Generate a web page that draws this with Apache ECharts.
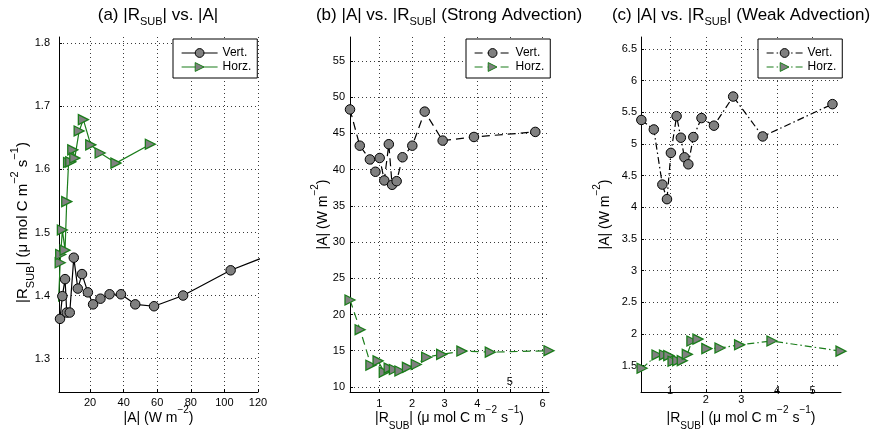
<!DOCTYPE html>
<html>
<head>
<meta charset="utf-8">
<script src="https://cdn.jsdelivr.net/npm/echarts@6/dist/echarts.min.js"></script>
<style>
  html, body { margin: 0; padding: 0; background: #fff; }
  #chart { width: 871px; height: 437px; }
</style>
</head>
<body>
<div id="chart"></div>
<script>
// ---- (a) |R_SUB| against |A| ----
const aVertA = [2.1, 3.5, 5.1, 6.1, 7.9, 10.3, 12.7, 15.2, 18.7, 21.8, 26.2, 31.6, 38.4, 46.9, 58.1, 75.4, 103.7, 140];
const aVertR = [1.363, 1.399, 1.426, 1.373, 1.373, 1.460, 1.411, 1.434, 1.405, 1.386, 1.395, 1.402, 1.402, 1.386, 1.383, 1.400, 1.440, 1.478];
const aHorzA = [1.2, 2.2, 2.5, 3.5, 5.1, 6.1, 7.2, 8.5, 9.7, 10.9, 13.5, 16.0, 20.4, 26.0, 35.4, 55.9];
const aHorzR = [1.39, 1.452, 1.465, 1.504, 1.472, 1.549, 1.611, 1.612, 1.631, 1.618, 1.661, 1.679, 1.639, 1.626, 1.610, 1.640];
const aXTicks = [20, 40, 60, 80, 100, 120];
const aYTicks = [1.3, 1.4, 1.5, 1.6, 1.7, 1.8];

// ---- (b) |A| against |R_SUB|, strong advection ----
const bVertR = [0.10, 0.40, 0.71, 0.88, 1.01, 1.15, 1.29, 1.39, 1.53, 1.71, 2.01, 2.39, 2.94, 3.90, 5.78];
const bVertA = [48.3, 43.3, 41.4, 39.7, 41.6, 38.5, 43.5, 37.9, 38.4, 41.7, 43.3, 48.0, 44.0, 44.5, 45.2];
const bHorzR = [0.10, 0.41, 0.74, 0.96, 1.15, 1.30, 1.46, 1.63, 1.86, 2.13, 2.45, 2.91, 3.53, 4.40, 6.20];
const bHorzA = [22.0, 17.9, 13.0, 13.6, 12.05, 12.6, 12.4, 12.2, 12.7, 13.1, 14.1, 14.5, 14.95, 14.8, 15.0];
const bXTicks = [1, 2, 3, 4, 5, 6];
const bYTicks = [10, 15, 20, 25, 30, 35, 40, 45, 50, 55];
const bXRaised = [5];

// ---- (c) |A| against |R_SUB|, weak advection ----
const cVertR = [0.19, 0.54, 0.78, 0.91, 1.02, 1.18, 1.30, 1.40, 1.51, 1.65, 1.88, 2.23, 2.77, 3.60, 5.56];
const cVertA = [5.38, 5.23, 4.36, 4.13, 4.86, 5.44, 5.10, 4.79, 4.68, 5.11, 5.41, 5.29, 5.75, 5.12, 5.63];
const cHorzR = [0.21, 0.63, 0.84, 0.96, 1.08, 1.21, 1.34, 1.48, 1.61, 1.78, 2.03, 2.40, 2.95, 3.86, 5.80];
const cHorzA = [1.46, 1.67, 1.67, 1.66, 1.57, 1.58, 1.58, 1.68, 1.89, 1.92, 1.77, 1.78, 1.83, 1.89, 1.73];
const cXTicks = [1, 2, 3, 4, 5];
const cYTicks = [1.5, 2, 2.5, 3, 3.5, 4, 4.5, 5, 5.5, 6, 6.5];
const cXRaised = [1, 4, 5];

const FONT = "'Liberation Sans', Arial, Helvetica, sans-serif";
const GREEN = '#1b7d1b';
const MARKER_FILL = '#808080';

const pairs = (xs, ys) => xs.map((x, i) => [x, ys[i]]);

// sub/superscript styles for rich text
const scriptStyles = (size) => ({
  sub: { fontSize: size, lineHeight: size, verticalAlign: 'bottom', fontFamily: FONT, color: '#000' },
  sup: { fontSize: size, lineHeight: size, verticalAlign: 'top', fontFamily: FONT, color: '#000' }
});

const nameStyle = {
  fontSize: 14, lineHeight: 26, color: '#000', fontFamily: FONT,
  rich: scriptStyles(10)
};
// the rotated label of the first panel runs a little larger and lower
const nameStyleA = {
  fontSize: 15, lineHeight: 27, color: '#000', fontFamily: FONT,
  padding: [0, 16, 0, 0],
  rich: scriptStyles(11)
};

const grids = [
  { left: 59, top: 37, width: 199, height: 355 },
  { left: 350, top: 37, width: 199, height: 355 },
  { left: 641, top: 37, width: 200, height: 355 }
].map(g => Object.assign({ containLabel: false, outerBoundsMode: 'none' }, g));

function baseAxis(gridIndex, min, max, ticks, name, nameGap, labelMargin) {
  return {
    type: 'value', gridIndex, min, max,
    axisLine: { show: true, onZero: false, lineStyle: { color: '#000', width: 1 } },
    axisTick: { show: true, inside: true, length: 3, customValues: ticks, lineStyle: { color: '#000' } },
    axisLabel: { customValues: ticks, color: '#000', fontSize: 11, fontFamily: FONT, margin: labelMargin },
    splitLine: { show: true, lineStyle: { color: '#3a3a3a', width: 1, type: [1, 3] } },
    name, nameLocation: 'middle', nameGap, nameMoveOverlap: false, nameTextStyle: nameStyle
  };
}

// x tick labels, a few of which sit higher than the rest
function xLabels(ticks, raised, margin, pad) {
  return {
    customValues: ticks,
    color: '#000', fontSize: 11, fontFamily: FONT, margin,
    formatter: v => (raised.indexOf(v) >= 0 ? '{r|' + v + '}' : '{n|' + v + '}'),
    rich: {
      n: { fontSize: 11, fontFamily: FONT, color: '#000', padding: [pad, 0, 0, 0] },
      r: { fontSize: 11, fontFamily: FONT, color: '#000', padding: [0, 0, 0, 0] }
    }
  };
}

const rsubName = '|R{sub|SUB}| (\u03bc mol C m{sup|\u22122} s{sup|\u22121})';
const aName = '|A| (W m{sup|\u22122})';

const xAxes = [
  baseAxis(0, 1.5, 120, aXTicks, aName, 13, 5),
  baseAxis(1, 0.1, 6.2, bXTicks, rsubName, 13, 5),
  baseAxis(2, 0.18, 5.8, cXTicks, rsubName, 13, 5)
];
xAxes[1].axisLabel = xLabels(bXTicks, bXRaised, -15.5, 22);
xAxes[2].axisLabel = xLabels(cXTicks, cXRaised, -6.5, 9);

const yAxes = [
  baseAxis(0, 1.247, 1.81, aYTicks, rsubName, 23, 9),
  baseAxis(1, 9.3, 58.3, bYTicks, aName, 14, 5),
  baseAxis(2, 1.085, 6.69, cYTicks, aName, 23, 4)
];
yAxes[0].nameTextStyle = nameStyleA;

function vertSeries(name, idx, data, dash) {
  return {
    type: 'line', name, xAxisIndex: idx, yAxisIndex: idx, data,
    symbol: 'circle', symbolSize: 9.5,
    itemStyle: { color: MARKER_FILL, borderColor: '#000', borderWidth: 1 },
    lineStyle: { color: '#000', width: 1.2, type: dash },
    clip: idx === 0, animation: false, z: 3
  };
}
function horzSeries(name, idx, data, dash) {
  return {
    type: 'line', name, xAxisIndex: idx, yAxisIndex: idx, data,
    symbol: 'triangle', symbolSize: 10, symbolRotate: -90,
    itemStyle: { color: MARKER_FILL, borderColor: GREEN, borderWidth: 1.3 },
    lineStyle: { color: GREEN, width: 1.2, type: dash },
    clip: idx === 0, animation: false, z: 3
  };
}

const DASH = [8, 5];
const DASH_DOT = [7, 3, 1.5, 3];

const series = [
  vertSeries('a-Vert', 0, pairs(aVertA, aVertR), 'solid'),
  horzSeries('a-Horz', 0, pairs(aHorzA, aHorzR), 'solid'),
  vertSeries('b-Vert', 1, pairs(bVertR, bVertA), DASH),
  horzSeries('b-Horz', 1, pairs(bHorzR, bHorzA), DASH),
  vertSeries('c-Vert', 2, pairs(cVertR, cVertA), DASH_DOT),
  horzSeries('c-Horz', 2, pairs(cHorzR, cHorzA), DASH_DOT)
];

const legendLabel = n => (n.indexOf('Vert') >= 0 ? 'Vert.' : 'Horz.');
function legendAt(left, prefix) {
  return {
    left, top: 39, orient: 'vertical',
    data: [prefix + '-Vert', prefix + '-Horz'],
    formatter: legendLabel,
    itemWidth: 36, itemHeight: 11, itemGap: 2,
    padding: [8, 6, 5, 8],
    lineStyle: { width: 1.2 },
    itemStyle: { borderWidth: 1 },
    backgroundColor: '#fff', borderColor: '#000', borderWidth: 1, borderRadius: 0,
    textStyle: { fontSize: 12, fontFamily: FONT, color: '#000' },
    selectedMode: false
  };
}

const titleStyle = {
  fontSize: 17, fontWeight: 'normal', lineHeight: 24, color: '#000', fontFamily: FONT,
  rich: {
    sub: { fontSize: 11, lineHeight: 11, verticalAlign: 'bottom', fontFamily: FONT, color: '#000' }
  }
};
function titleAt(cx, text) {
  return { text, left: cx, top: 3, textAlign: 'center', padding: 0, textStyle: titleStyle };
}

const chart = echarts.init(document.getElementById('chart'), null, { renderer: 'canvas' });
chart.setOption({
  backgroundColor: '#fff',
  animation: false,
  title: [
    titleAt(158, '(a) |R{sub|SUB}| vs. |A|'),
    titleAt(449, '(b) |A| vs. |R{sub|SUB}| (Strong Advection)'),
    titleAt(741, '(c) |A| vs. |R{sub|SUB}| (Weak Advection)')
  ],
  legend: [legendAt(173, 'a'), legendAt(466, 'b'), legendAt(758, 'c')],
  grid: grids,
  xAxis: xAxes,
  yAxis: yAxes,
  series
});
</script>
</body>
</html>
